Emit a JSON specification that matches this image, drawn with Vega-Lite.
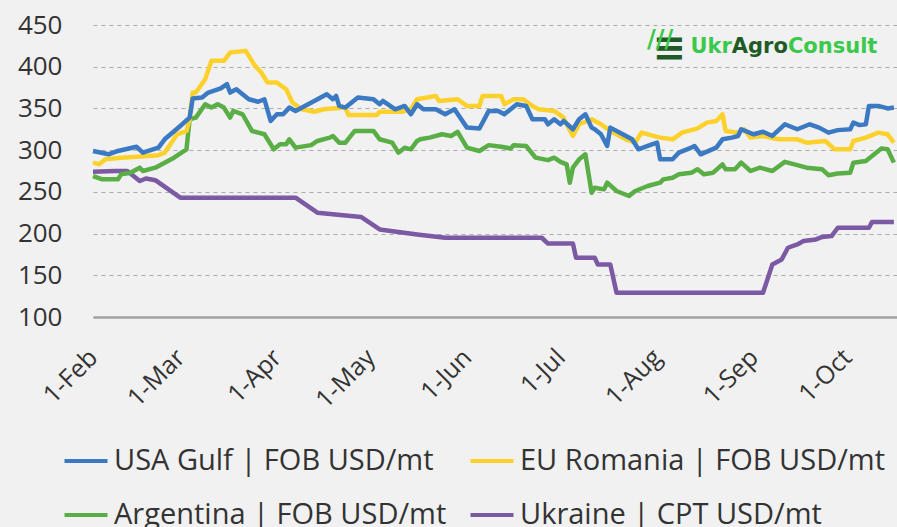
{
  "$schema": "https://vega.github.io/schema/vega-lite/v6.json",
  "width": 804,
  "height": 292,
  "autosize": {"type": "none"},
  "padding": {"left": 93, "top": 25, "right": 0, "bottom": 210},
  "background": "#f1f1f1",
  "config": {
    "view": {"stroke": null},
    "font": "Open Sans",
    "axis": {"labelFont": "Open Sans", "labelColor": "#333333"},
    "legend": {"labelFont": "Open Sans"}
  },
  "datasets": {
    "usa": [
      {"date": "2022-02-01", "price": 299}, {"date": "2022-02-06", "price": 295}, {"date": "2022-02-09", "price": 299}, {"date": "2022-02-15", "price": 304}, {"date": "2022-02-17", "price": 297}, {"date": "2022-02-22", "price": 303}, {"date": "2022-02-24", "price": 313}, {"date": "2022-03-01", "price": 329}, {"date": "2022-03-04", "price": 339}, {"date": "2022-03-05", "price": 362}, {"date": "2022-03-08", "price": 363}, {"date": "2022-03-10", "price": 369}, {"date": "2022-03-14", "price": 374}, {"date": "2022-03-16", "price": 379}, {"date": "2022-03-17", "price": 369}, {"date": "2022-03-19", "price": 373}, {"date": "2022-03-23", "price": 361}, {"date": "2022-03-26", "price": 358}, {"date": "2022-03-28", "price": 361}, {"date": "2022-03-30", "price": 335}, {"date": "2022-04-01", "price": 343}, {"date": "2022-04-03", "price": 343}, {"date": "2022-04-05", "price": 351}, {"date": "2022-04-07", "price": 347}, {"date": "2022-04-13", "price": 359}, {"date": "2022-04-17", "price": 367}, {"date": "2022-04-19", "price": 361}, {"date": "2022-04-20", "price": 365}, {"date": "2022-04-21", "price": 353}, {"date": "2022-04-23", "price": 351}, {"date": "2022-04-27", "price": 363}, {"date": "2022-05-02", "price": 361}, {"date": "2022-05-04", "price": 355}, {"date": "2022-05-05", "price": 359}, {"date": "2022-05-09", "price": 349}, {"date": "2022-05-12", "price": 353}, {"date": "2022-05-14", "price": 343}, {"date": "2022-05-16", "price": 355}, {"date": "2022-05-18", "price": 349}, {"date": "2022-05-22", "price": 349}, {"date": "2022-05-25", "price": 343}, {"date": "2022-05-28", "price": 349}, {"date": "2022-06-01", "price": 327}, {"date": "2022-06-05", "price": 326}, {"date": "2022-06-08", "price": 347}, {"date": "2022-06-11", "price": 347}, {"date": "2022-06-13", "price": 343}, {"date": "2022-06-17", "price": 355}, {"date": "2022-06-20", "price": 353}, {"date": "2022-06-22", "price": 337}, {"date": "2022-06-26", "price": 337}, {"date": "2022-06-27", "price": 331}, {"date": "2022-06-29", "price": 337}, {"date": "2022-07-01", "price": 331}, {"date": "2022-07-02", "price": 335}, {"date": "2022-07-05", "price": 325}, {"date": "2022-07-07", "price": 337}, {"date": "2022-07-09", "price": 343}, {"date": "2022-07-11", "price": 327}, {"date": "2022-07-12", "price": 325}, {"date": "2022-07-14", "price": 319}, {"date": "2022-07-16", "price": 305}, {"date": "2022-07-17", "price": 327}, {"date": "2022-07-21", "price": 319}, {"date": "2022-07-24", "price": 313}, {"date": "2022-07-26", "price": 301}, {"date": "2022-07-29", "price": 305}, {"date": "2022-08-01", "price": 309}, {"date": "2022-08-02", "price": 289}, {"date": "2022-08-06", "price": 289}, {"date": "2022-08-08", "price": 297}, {"date": "2022-08-12", "price": 303}, {"date": "2022-08-13", "price": 305}, {"date": "2022-08-15", "price": 295}, {"date": "2022-08-20", "price": 303}, {"date": "2022-08-22", "price": 313}, {"date": "2022-08-25", "price": 315}, {"date": "2022-08-27", "price": 317}, {"date": "2022-08-28", "price": 325}, {"date": "2022-09-01", "price": 319}, {"date": "2022-09-04", "price": 322}, {"date": "2022-09-07", "price": 317}, {"date": "2022-09-11", "price": 331}, {"date": "2022-09-15", "price": 325}, {"date": "2022-09-19", "price": 331}, {"date": "2022-09-22", "price": 327}, {"date": "2022-09-25", "price": 321}, {"date": "2022-09-28", "price": 324}, {"date": "2022-10-02", "price": 325}, {"date": "2022-10-03", "price": 333}, {"date": "2022-10-05", "price": 330}, {"date": "2022-10-07", "price": 331}, {"date": "2022-10-08", "price": 353}, {"date": "2022-10-11", "price": 353}, {"date": "2022-10-14", "price": 350}, {"date": "2022-10-16", "price": 351}
    ],
    "eu": [
      {"date": "2022-02-01", "price": 285}, {"date": "2022-02-03", "price": 283}, {"date": "2022-02-05", "price": 289}, {"date": "2022-02-10", "price": 291}, {"date": "2022-02-15", "price": 292}, {"date": "2022-02-22", "price": 294}, {"date": "2022-02-24", "price": 297}, {"date": "2022-02-28", "price": 319}, {"date": "2022-03-03", "price": 323}, {"date": "2022-03-04", "price": 337}, {"date": "2022-03-05", "price": 369}, {"date": "2022-03-06", "price": 369}, {"date": "2022-03-09", "price": 385}, {"date": "2022-03-11", "price": 407}, {"date": "2022-03-15", "price": 407}, {"date": "2022-03-17", "price": 417}, {"date": "2022-03-22", "price": 419}, {"date": "2022-03-25", "price": 401}, {"date": "2022-03-27", "price": 393}, {"date": "2022-03-29", "price": 381}, {"date": "2022-04-01", "price": 381}, {"date": "2022-04-04", "price": 373}, {"date": "2022-04-06", "price": 357}, {"date": "2022-04-09", "price": 349}, {"date": "2022-04-13", "price": 346}, {"date": "2022-04-16", "price": 349}, {"date": "2022-04-23", "price": 351}, {"date": "2022-04-24", "price": 342}, {"date": "2022-05-03", "price": 342}, {"date": "2022-05-04", "price": 346}, {"date": "2022-05-11", "price": 346}, {"date": "2022-05-14", "price": 349}, {"date": "2022-05-16", "price": 361}, {"date": "2022-05-22", "price": 365}, {"date": "2022-05-23", "price": 359}, {"date": "2022-05-29", "price": 361}, {"date": "2022-06-01", "price": 353}, {"date": "2022-06-05", "price": 353}, {"date": "2022-06-06", "price": 365}, {"date": "2022-06-12", "price": 365}, {"date": "2022-06-13", "price": 355}, {"date": "2022-06-16", "price": 361}, {"date": "2022-06-19", "price": 361}, {"date": "2022-06-22", "price": 353}, {"date": "2022-06-24", "price": 349}, {"date": "2022-06-29", "price": 347}, {"date": "2022-07-02", "price": 339}, {"date": "2022-07-03", "price": 331}, {"date": "2022-07-05", "price": 317}, {"date": "2022-07-07", "price": 331}, {"date": "2022-07-11", "price": 337}, {"date": "2022-07-14", "price": 331}, {"date": "2022-07-17", "price": 323}, {"date": "2022-07-22", "price": 313}, {"date": "2022-07-25", "price": 309}, {"date": "2022-07-27", "price": 321}, {"date": "2022-08-02", "price": 315}, {"date": "2022-08-06", "price": 313}, {"date": "2022-08-09", "price": 321}, {"date": "2022-08-14", "price": 326}, {"date": "2022-08-17", "price": 333}, {"date": "2022-08-20", "price": 335}, {"date": "2022-08-22", "price": 343}, {"date": "2022-08-23", "price": 323}, {"date": "2022-08-27", "price": 321}, {"date": "2022-08-29", "price": 325}, {"date": "2022-08-31", "price": 315}, {"date": "2022-09-04", "price": 317}, {"date": "2022-09-09", "price": 313}, {"date": "2022-09-15", "price": 313}, {"date": "2022-09-18", "price": 309}, {"date": "2022-09-24", "price": 311}, {"date": "2022-09-27", "price": 301}, {"date": "2022-10-02", "price": 301}, {"date": "2022-10-03", "price": 311}, {"date": "2022-10-07", "price": 315}, {"date": "2022-10-11", "price": 321}, {"date": "2022-10-14", "price": 319}, {"date": "2022-10-16", "price": 309}
    ],
    "arg": [
      {"date": "2022-02-01", "price": 269}, {"date": "2022-02-04", "price": 265}, {"date": "2022-02-09", "price": 265}, {"date": "2022-02-10", "price": 271}, {"date": "2022-02-13", "price": 273}, {"date": "2022-02-16", "price": 279}, {"date": "2022-02-17", "price": 275}, {"date": "2022-02-21", "price": 279}, {"date": "2022-02-24", "price": 285}, {"date": "2022-02-27", "price": 291}, {"date": "2022-03-03", "price": 301}, {"date": "2022-03-04", "price": 337}, {"date": "2022-03-06", "price": 339}, {"date": "2022-03-09", "price": 355}, {"date": "2022-03-11", "price": 351}, {"date": "2022-03-13", "price": 355}, {"date": "2022-03-15", "price": 351}, {"date": "2022-03-17", "price": 339}, {"date": "2022-03-18", "price": 347}, {"date": "2022-03-21", "price": 343}, {"date": "2022-03-24", "price": 323}, {"date": "2022-03-28", "price": 319}, {"date": "2022-03-31", "price": 301}, {"date": "2022-04-02", "price": 307}, {"date": "2022-04-04", "price": 307}, {"date": "2022-04-05", "price": 313}, {"date": "2022-04-07", "price": 303}, {"date": "2022-04-12", "price": 306}, {"date": "2022-04-14", "price": 311}, {"date": "2022-04-18", "price": 315}, {"date": "2022-04-19", "price": 317}, {"date": "2022-04-21", "price": 309}, {"date": "2022-04-23", "price": 309}, {"date": "2022-04-26", "price": 323}, {"date": "2022-05-02", "price": 323}, {"date": "2022-05-04", "price": 313}, {"date": "2022-05-08", "price": 309}, {"date": "2022-05-10", "price": 297}, {"date": "2022-05-12", "price": 303}, {"date": "2022-05-14", "price": 301}, {"date": "2022-05-16", "price": 311}, {"date": "2022-05-17", "price": 313}, {"date": "2022-05-20", "price": 315}, {"date": "2022-05-24", "price": 319}, {"date": "2022-05-27", "price": 317}, {"date": "2022-05-29", "price": 322}, {"date": "2022-06-01", "price": 303}, {"date": "2022-06-05", "price": 299}, {"date": "2022-06-08", "price": 306}, {"date": "2022-06-12", "price": 304}, {"date": "2022-06-15", "price": 302}, {"date": "2022-06-16", "price": 306}, {"date": "2022-06-20", "price": 305}, {"date": "2022-06-23", "price": 291}, {"date": "2022-06-27", "price": 288}, {"date": "2022-06-29", "price": 291}, {"date": "2022-07-01", "price": 286}, {"date": "2022-07-03", "price": 283}, {"date": "2022-07-04", "price": 261}, {"date": "2022-07-05", "price": 279}, {"date": "2022-07-07", "price": 289}, {"date": "2022-07-09", "price": 295}, {"date": "2022-07-11", "price": 249}, {"date": "2022-07-12", "price": 255}, {"date": "2022-07-15", "price": 253}, {"date": "2022-07-16", "price": 261}, {"date": "2022-07-19", "price": 251}, {"date": "2022-07-23", "price": 245}, {"date": "2022-07-25", "price": 251}, {"date": "2022-07-29", "price": 257}, {"date": "2022-08-02", "price": 261}, {"date": "2022-08-03", "price": 265}, {"date": "2022-08-06", "price": 267}, {"date": "2022-08-08", "price": 271}, {"date": "2022-08-12", "price": 273}, {"date": "2022-08-14", "price": 277}, {"date": "2022-08-16", "price": 271}, {"date": "2022-08-19", "price": 273}, {"date": "2022-08-22", "price": 283}, {"date": "2022-08-23", "price": 277}, {"date": "2022-08-26", "price": 277}, {"date": "2022-08-28", "price": 285}, {"date": "2022-08-31", "price": 275}, {"date": "2022-09-03", "price": 279}, {"date": "2022-09-07", "price": 275}, {"date": "2022-09-11", "price": 286}, {"date": "2022-09-15", "price": 282}, {"date": "2022-09-18", "price": 279}, {"date": "2022-09-23", "price": 277}, {"date": "2022-09-25", "price": 270}, {"date": "2022-09-28", "price": 272}, {"date": "2022-10-02", "price": 273}, {"date": "2022-10-03", "price": 285}, {"date": "2022-10-07", "price": 287}, {"date": "2022-10-09", "price": 293}, {"date": "2022-10-12", "price": 302}, {"date": "2022-10-14", "price": 301}, {"date": "2022-10-16", "price": 285}
    ],
    "ukr": [
      {"date": "2022-02-01", "price": 274}, {"date": "2022-02-08", "price": 275}, {"date": "2022-02-12", "price": 275}, {"date": "2022-02-16", "price": 263}, {"date": "2022-02-18", "price": 266}, {"date": "2022-02-21", "price": 264}, {"date": "2022-03-01", "price": 243}, {"date": "2022-04-07", "price": 243}, {"date": "2022-04-14", "price": 225}, {"date": "2022-04-28", "price": 220}, {"date": "2022-05-04", "price": 205}, {"date": "2022-05-16", "price": 199}, {"date": "2022-05-25", "price": 195}, {"date": "2022-06-25", "price": 195}, {"date": "2022-06-27", "price": 188}, {"date": "2022-07-05", "price": 188}, {"date": "2022-07-06", "price": 171}, {"date": "2022-07-12", "price": 171}, {"date": "2022-07-13", "price": 163}, {"date": "2022-07-17", "price": 163}, {"date": "2022-07-19", "price": 129}, {"date": "2022-09-04", "price": 129}, {"date": "2022-09-07", "price": 163}, {"date": "2022-09-10", "price": 169}, {"date": "2022-09-12", "price": 183}, {"date": "2022-09-15", "price": 187}, {"date": "2022-09-17", "price": 191}, {"date": "2022-09-21", "price": 193}, {"date": "2022-09-23", "price": 196}, {"date": "2022-09-26", "price": 197}, {"date": "2022-09-28", "price": 207}, {"date": "2022-10-08", "price": 207}, {"date": "2022-10-09", "price": 214}, {"date": "2022-10-16", "price": 214}
    ]
  },
  "layer": [
    {
      "encoding": {
        "x": {
          "field": "date",
          "type": "temporal",
          "scale": {"type": "utc", "domain": [{"year": 2022, "month": 2, "date": 1, "utc": true}, {"year": 2022, "month": 10, "date": 17, "utc": true}]},
          "axis": {
            "title": null,
            "values": [
              {"year": 2022, "month": 2, "date": 1, "utc": true}, {"year": 2022, "month": 3, "date": 1, "utc": true}, {"year": 2022, "month": 4, "date": 1, "utc": true}, {"year": 2022, "month": 5, "date": 1, "utc": true}, {"year": 2022, "month": 6, "date": 1, "utc": true}, {"year": 2022, "month": 7, "date": 1, "utc": true}, {"year": 2022, "month": 8, "date": 1, "utc": true}, {"year": 2022, "month": 9, "date": 1, "utc": true}, {"year": 2022, "month": 10, "date": 1, "utc": true}
            ],
            "labelExpr": "utcFormat(datum.value, '%-d-%b')",
            "labelAngle": -45,
            "labelAlign": "right",
            "labelBaseline": "middle",
            "labelFontSize": 25,
            "labelPadding": 36,
            "ticks": false,
            "tickSize": 0,
            "grid": false,
            "domain": true,
            "domainColor": "#a0a0a0",
            "domainWidth": 2.5,
            "labelOverlap": false,
            "labelFlush": false
          }
        },
        "y": {
          "field": "price",
          "type": "quantitative",
          "scale": {"domain": [100, 450], "nice": false, "zero": false},
          "axis": {
            "title": null,
            "values": [100, 150, 200, 250, 300, 350, 400, 450],
            "labelFontSize": 26,
            "labelPadding": 31,
            "ticks": false,
            "tickSize": 0,
            "domain": false,
            "grid": true,
            "gridColor": "#ababab",
            "gridDash": [4, 4],
            "gridWidth": 1.2
          }
        },
        "color": {
          "scale": {
            "domain": ["USA Gulf | FOB USD/mt", "EU Romania | FOB USD/mt", "Argentina | FOB USD/mt", "Ukraine | CPT USD/mt"],
            "range": ["#3b79c3", "#fdd12b", "#5aae46", "#7b59a3"]
          },
          "legend": {
            "title": null,
            "orient": "none",
            "legendX": -31,
            "legendY": 412,
            "columns": 2,
            "direction": "horizontal",
            "symbolType": "stroke",
            "symbolSize": 1850,
            "symbolStrokeWidth": 4,
            "labelFontSize": 29,
            "labelColor": "#333333",
            "labelOffset": 4,
            "columnPadding": 15,
            "rowPadding": 15,
            "labelLimit": 0
          }
        }
      },
      "layer": [
        {"data": {"name": "ukr"}, "mark": {"type": "line", "strokeWidth": 4.5, "strokeJoin": "round"}, "encoding": {"color": {"datum": "Ukraine | CPT USD/mt"}}},
        {"data": {"name": "arg"}, "mark": {"type": "line", "strokeWidth": 4.5, "strokeJoin": "round"}, "encoding": {"color": {"datum": "Argentina | FOB USD/mt"}}},
        {"data": {"name": "eu"}, "mark": {"type": "line", "strokeWidth": 4.5, "strokeJoin": "round"}, "encoding": {"color": {"datum": "EU Romania | FOB USD/mt"}}},
        {"data": {"name": "usa"}, "mark": {"type": "line", "strokeWidth": 4.5, "strokeJoin": "round"}, "encoding": {"color": {"datum": "USA Gulf | FOB USD/mt"}}}
      ]
    },
    {
      "data": {"values": [{"logo": "icon"}]},
      "mark": {"type": "text", "text": "≡", "font": "DejaVu Sans", "fontSize": 40, "fontWeight": "bold", "align": "center", "baseline": "alphabetic", "color": "#1f5a27"},
      "encoding": {"x": {"datum": {"year": 2022, "month": 8, "date": 5, "utc": true}, "type": "temporal"}, "y": {"datum": 407, "type": "quantitative"}}
    },
    {
      "data": {"values": [{"logo": "icon"}]},
      "mark": {"type": "text", "text": "///", "font": "DejaVu Sans", "fontSize": 24, "fontWeight": "bold", "align": "center", "baseline": "alphabetic", "color": "#3cc84a"},
      "encoding": {"x": {"datum": {"year": 2022, "month": 8, "date": 2, "utc": true}, "type": "temporal"}, "y": {"datum": 424, "type": "quantitative"}}
    },
    {
      "data": {"values": [{"logo": "Ukr"}]},
      "mark": {"type": "text", "text": "Ukr", "font": "DejaVu Sans", "fontSize": 21, "fontWeight": "bold", "align": "right", "baseline": "alphabetic", "color": "#3cc84a"},
      "encoding": {"x": {"datum": {"year": 2022, "month": 8, "date": 25, "utc": true}, "type": "temporal"}, "y": {"datum": 417, "type": "quantitative"}}
    },
    {
      "data": {"values": [{"logo": "Agro"}]},
      "mark": {"type": "text", "text": "Agro", "font": "DejaVu Sans", "fontSize": 21, "fontWeight": "bold", "align": "left", "baseline": "alphabetic", "color": "#1f5a27"},
      "encoding": {"x": {"datum": {"year": 2022, "month": 8, "date": 25, "utc": true}, "type": "temporal"}, "y": {"datum": 417, "type": "quantitative"}}
    },
    {
      "data": {"values": [{"logo": "Consult"}]},
      "mark": {"type": "text", "text": "Consult", "font": "DejaVu Sans", "fontSize": 21, "fontWeight": "bold", "align": "left", "baseline": "alphabetic", "color": "#3cc84a"},
      "encoding": {"x": {"datum": {"year": 2022, "month": 9, "date": 12, "utc": true}, "type": "temporal"}, "y": {"datum": 417, "type": "quantitative"}}
    }
  ]
}
